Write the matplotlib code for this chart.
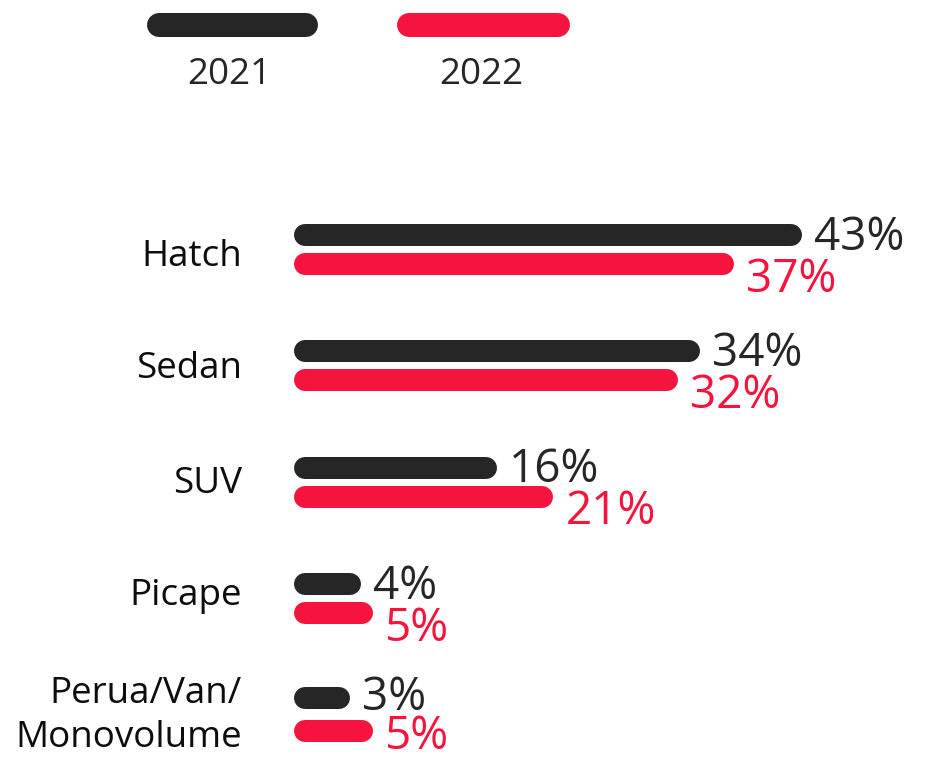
import matplotlib
matplotlib.use("Agg")
import matplotlib.pyplot as plt

categories = ["Hatch", "Sedan", "SUV", "Picape", "Perua/Van/\nMonovolume"]
series_names = ["2021", "2022"]
values_2021 = [43, 34, 16, 4, 3]
values_2022 = [37, 32, 21, 5, 5]

DARK = "#262626"
RED = "#f5143e"

plt.rcParams['font.family'] = ['Open Sans', 'DejaVu Sans']

W, H, DPI = 936, 758, 100
fig = plt.figure(figsize=(W / DPI, H / DPI), dpi=DPI)
ax = fig.add_axes([0, 0, 1, 1])
ax.set_axis_off()

# pixel mapping: x=0 -> px 305, 11.3 px per %
x0_px, kx = 305, 11.3
ax.set_xlim(-x0_px / kx, (W - x0_px) / kx)
row0_px, row_px = 249, 116.5
ax.set_ylim((H - row0_px) / row_px, -row0_px / row_px)

lw_pt = 22 * 72 / DPI
dark_off = [-14.5, -14.5, -14.5, -14.5, -17]
red_off = [14.5, 14.5, 14.5, 14.5, 16]
label_dy = [8, 4, 2, -3, 1]
red_tdy = [16, 16, 16, 16, 6]
dark_tdy = [3, 3, 3, 3, 0]

for i, (cat, v1, v2) in enumerate(zip(categories, values_2021, values_2022)):
    for v, dy, col, tdy in ((v1, dark_off[i] / row_px, DARK, dark_tdy[i] / row_px),
                            (v2, red_off[i] / row_px, RED, red_tdy[i] / row_px)):
        ax.plot([0, v], [i + dy, i + dy], color=col, lw=lw_pt,
                solid_capstyle='round', zorder=2)
        ax.text(v + (11 + 12) / kx, i + dy + tdy, f"{v}%", color=col,
                fontsize=33, ha='left', va='center')
    ax.text((242 - x0_px) / kx, i + label_dy[i] / row_px, cat,
            color="#0d0d0d", fontsize=26.5, ha='right', va='center',
            multialignment='right', linespacing=1.3)

# legend
leg_lw = 24 * 72 / DPI
for (x1, x2, xc), col, name in (((159, 306, 229), DARK, series_names[0]),
                                ((409, 558, 481), RED, series_names[1])):
    fig.add_artist(plt.Line2D([x1 / W, x2 / W], [1 - 25 / H, 1 - 25 / H],
                              color=col, lw=leg_lw, solid_capstyle='round',
                              transform=fig.transFigure))
    fig.text(xc / W, 1 - 75 / H, name, color=DARK, fontsize=26.5,
             ha='center', va='center')

fig.savefig("out.png", dpi=DPI)
